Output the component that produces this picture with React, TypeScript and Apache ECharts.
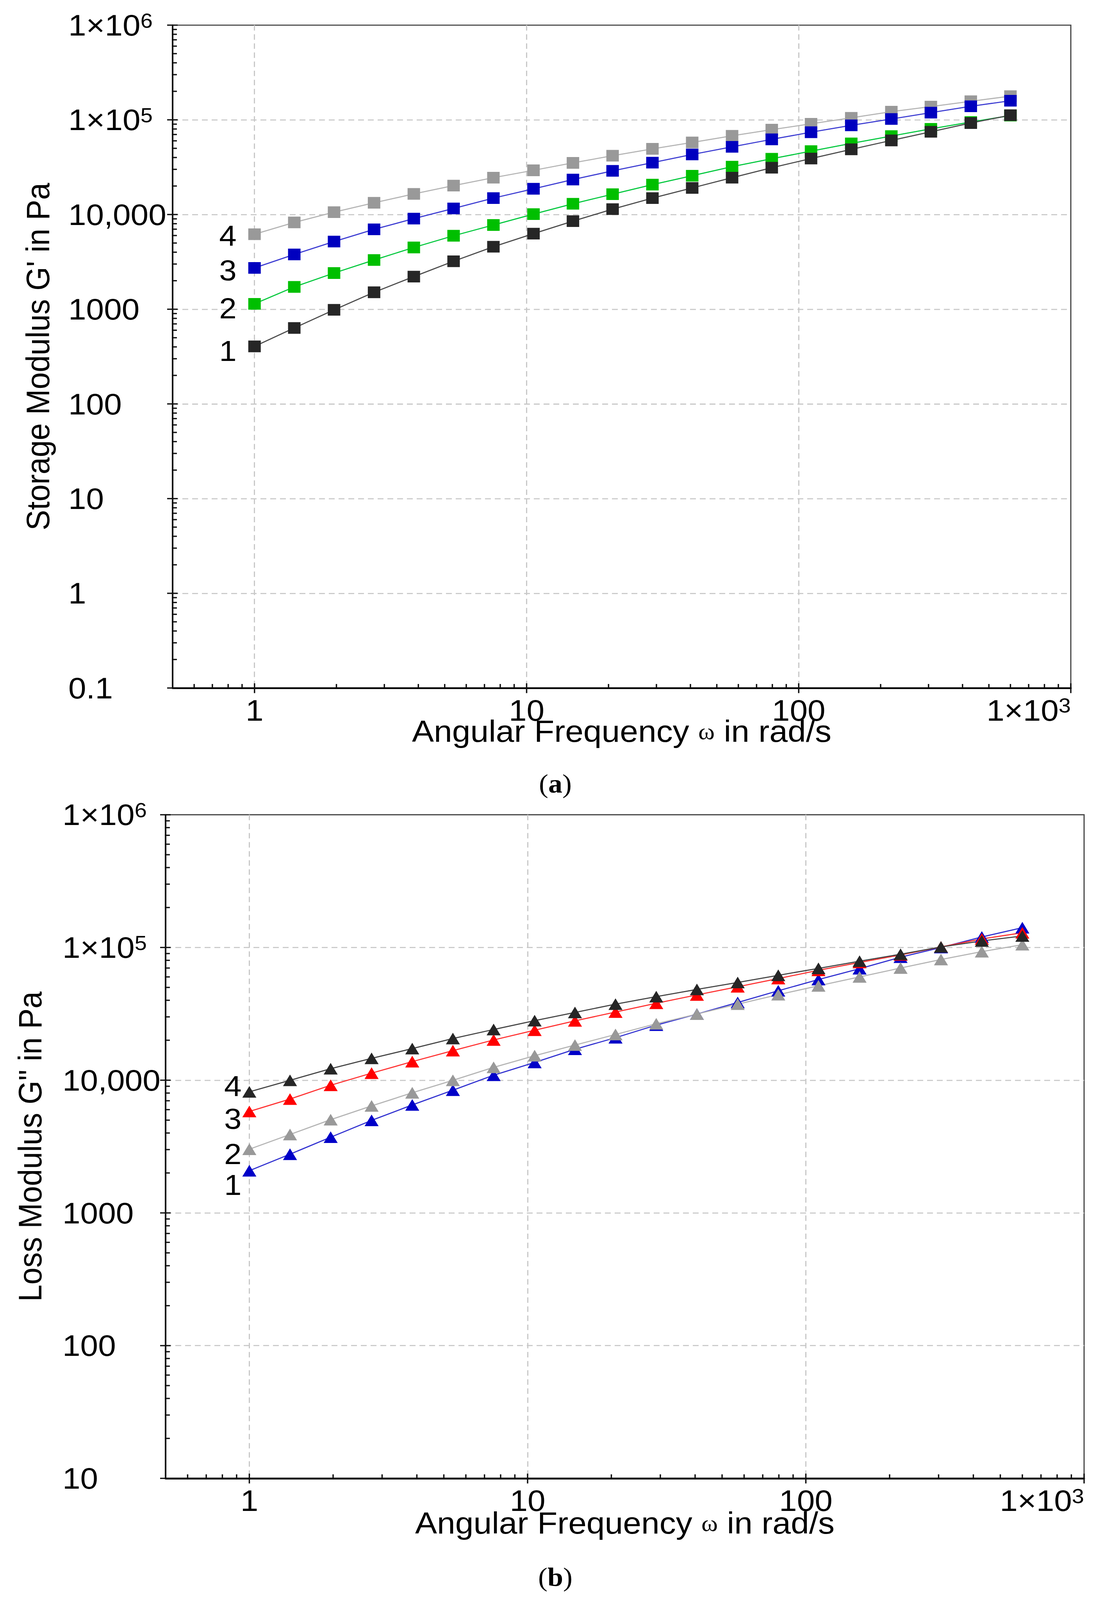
import React, { useEffect, useRef } from "react";
import * as echarts from "echarts";

// angular frequency, rad/s (same sweep for both panels)
const freq = [1, 1.4, 1.96, 2.75, 3.85, 5.39, 7.55, 10.6, 14.8, 20.7, 29, 40.6, 56.9, 79.6, 111, 156, 219, 306, 429, 600];

// (a) storage modulus G', Pa
const storage1 = [405, 634, 985, 1510, 2210, 3210, 4570, 6280, 8510, 11400, 14900, 19100, 24500, 31200, 39000, 48800, 60600, 74800, 92500, 112000];
const storage2 = [1140, 1720, 2410, 3310, 4490, 5970, 7750, 10100, 13000, 16400, 20700, 25700, 32000, 38800, 46700, 56300, 67400, 80200, 94800, 111000];
const storage3 = [2730, 3790, 5180, 6970, 9050, 11600, 14900, 18700, 23400, 28900, 35300, 43100, 51900, 62200, 74000, 87500, 102000, 119000, 139000, 159000];
const storage4 = [6190, 8250, 10600, 13300, 16500, 20200, 24500, 29300, 35100, 41800, 49400, 57700, 67800, 78700, 90800, 105000, 122000, 138000, 157000, 178000];

// (b) loss modulus G", Pa
const loss1 = [2080, 2770, 3720, 4980, 6510, 8410, 10900, 13600, 17100, 20900, 26000, 31500, 38500, 47200, 57300, 69200, 84500, 100000, 120000, 141000];
const loss2 = [3020, 3900, 5040, 6400, 8040, 9980, 12500, 15300, 18400, 22100, 26600, 31500, 37400, 44100, 51400, 60000, 70000, 81100, 93000, 105000];
const loss3 = [5810, 7210, 9160, 11300, 13800, 16700, 20100, 23800, 28000, 32600, 38000, 43900, 50600, 58300, 67300, 77100, 87900, 101000, 116000, 129000];
const loss4 = [8170, 9980, 12200, 14600, 17300, 20600, 24100, 28100, 32400, 37400, 42600, 48300, 54500, 61700, 69600, 78800, 88900, 101000, 112000, 122000];

// tick labels by decade ("base|exponent")
const freqTickLabels = ["1", "10", "100", "1×10|3"]; // 10^0 .. 10^3
const storageTickLabels = ["0.1", "1", "10", "100", "1000", "10,000", "1×10|5", "1×10|6"]; // 10^-1 .. 10^6
const lossTickLabels = ["10", "100", "1000", "10,000", "1×10|5", "1×10|6"]; // 10^1 .. 10^6

const W = 2827;
const H = 4393;
const SANS = "Liberation Sans";
const SERIF = "Liberation Serif";

const labelRich = {
  m: { fontFamily: SANS, fontSize: 82, lineHeight: 82, color: "#000" },
  s: { fontFamily: SANS, fontSize: 56, lineHeight: 56, color: "#000", verticalAlign: "top" },
};

const toRich = (s: string) => {
  const [b, e] = s.split("|");
  return e ? `{m|${b}}{s|${e}}` : `{m|${b}}`;
};

const decadeFormatter = (labels: string[], firstExp: number) => (v: number) => {
  const l = Math.log10(v);
  const e = Math.round(l);
  if (Math.abs(l - e) > 0.01) return "";
  const s = labels[e - firstExp];
  return s ? toRich(s) : "";
};

const minors = (lo: number, hi: number, from: number) => {
  const out: number[] = [];
  for (let d = lo; d < hi; d++) for (let k = 2; k <= 9; k++) if (k * 10 ** d > from) out.push(k * 10 ** d);
  return out;
};

const gridLine = { color: "#c8c8c8", width: 3, type: [15, 10] as number[] };

const makeX = (gridIndex: number, nameGap: number) => ({
  type: "log",
  logBase: 10,
  gridIndex,
  min: 0.5,
  max: 1000,
  axisLine: { show: true, onZero: false, lineStyle: { color: "#000", width: 5 } },
  axisTick: { show: false },
  axisLabel: {
    margin: 20,
    showMinLabel: false,
    alignMaxLabel: "right",
    formatter: decadeFormatter(freqTickLabels, 0),
    rich: labelRich,
  },
  splitLine: { show: true, showMinLine: false, showMaxLine: false, lineStyle: gridLine },
  name: "Angular Frequency {w|ω} in rad/s",
  nameLocation: "middle",
  nameGap,
  nameMoveOverlap: false,
  nameTextStyle: {
    fontFamily: SANS,
    fontSize: 84,
    lineHeight: 84,
    color: "#000",
    rich: { w: { fontFamily: SERIF, fontSize: 64, lineHeight: 84, color: "#000" } },
  },
});

const makeY = (gridIndex: number, min: number, labels: string[], firstExp: number, margin: number, name: string, nameGap: number) => ({
  type: "log",
  logBase: 10,
  gridIndex,
  min,
  max: 1e6,
  axisLine: { show: true, onZero: false, lineStyle: { color: "#000", width: 4 } },
  axisTick: { show: false },
  axisLabel: { align: "left", margin, formatter: decadeFormatter(labels, firstExp), rich: labelRich },
  splitLine: { show: true, showMinLine: false, showMaxLine: false, lineStyle: gridLine },
  name,
  nameLocation: "middle",
  nameRotate: 90,
  nameGap,
  nameMoveOverlap: false,
  nameTextStyle: { fontFamily: SANS, fontSize: 84, lineHeight: 84, color: "#000" },
});

// major ticks cross the axis, minor ticks point inward
const tickSeries = (gi: number, xMin: number, yMin: number, xMaj: number[], xMin2: number[], yMaj: number[], yMin2: number[]) => ({
  type: "custom",
  xAxisIndex: gi,
  yAxisIndex: gi,
  silent: true,
  clip: false,
  z: 10,
  encode: { x: 0, y: 1 },
  data: [
    ...xMaj.map((v) => [v, yMin, 0, 1]),
    ...xMin2.map((v) => [v, yMin, 0, 0]),
    ...yMaj.map((v) => [xMin, v, 1, 1]),
    ...yMin2.map((v) => [xMin, v, 1, 0]),
  ],
  renderItem: (_p: any, api: any) => {
    const p = api.coord([api.value(0), api.value(1)]);
    const onX = api.value(2) === 0;
    const major = api.value(3) === 1;
    let shape;
    if (onX) shape = major ? { x1: p[0], y1: p[1] - 13, x2: p[0], y2: p[1] + 14 } : { x1: p[0], y1: p[1], x2: p[0], y2: p[1] - 11 };
    else shape = major ? { x1: p[0] - 14, y1: p[1], x2: p[0] + 13, y2: p[1] } : { x1: p[0], y1: p[1], x2: p[0] + 11, y2: p[1] };
    return { type: "line", shape, style: { stroke: "#111", lineWidth: 3.5 } };
  },
});

const curve = (
  gi: number,
  tag: string,
  ys: number[],
  marker: string,
  line: string,
  symbol: string,
  symbolSize: number | number[],
  labelDist: number,
  labelDy: number
) => ({
  type: "line",
  name: tag,
  xAxisIndex: gi,
  yAxisIndex: gi,
  symbol,
  symbolSize,
  showAllSymbol: true,
  itemStyle: { color: marker },
  lineStyle: { color: line, width: 3 },
  data: ys.map((y, i) =>
    i === 0
      ? {
          value: [freq[i], y],
          label: {
            show: true,
            position: "left",
            distance: labelDist,
            offset: [0, labelDy],
            formatter: tag,
            fontFamily: SANS,
            fontSize: 80,
            color: "#000",
          },
        }
      : [freq[i], y]
  ),
});

const caption = (ch: string, y: number) => ({
  type: "text",
  x: 1422,
  y,
  style: {
    text: `{p|(}{b|${ch}}{p|)}`,
    align: "center",
    verticalAlign: "middle",
    textAlign: "center",
    textVerticalAlign: "middle",
    rich: {
      p: { fontFamily: SERIF, fontSize: 72, color: "#000" },
      b: { fontFamily: SERIF, fontSize: 72, fontWeight: "bold", color: "#000" },
    },
  },
});

const App: React.FC = () => {
  const chartRef = useRef<HTMLDivElement>(null);

  useEffect(() => {
    const el = chartRef.current;
    if (!el) return;
    // keep the whole figure inside the visible page if it is shorter than the figure
    const vh = window.innerHeight;
    const vw = window.innerWidth;
    const sy = vh > 0 && vh < H ? vh / H : 1;
    const sx = vw > 0 && vw < W ? vw / W : 1;
    if (sx !== 1 || sy !== 1) el.style.transform = `scale(${sx}, ${sy})`;

    const chart = echarts.init(el, undefined, { renderer: "svg" });

    const xMinorTicks = minors(-1, 3, 0.5);
    const option: any = {
      animation: false,
      backgroundColor: "#fff",
      textStyle: { fontFamily: SANS },
      grid: [
        { left: 442, top: 69, width: 2300, height: 1820, show: true, borderColor: "#444", borderWidth: 3, containLabel: false, outerBoundsMode: "none" },
        { left: 424, top: 2237, width: 2352, height: 1822, show: true, borderColor: "#444", borderWidth: 3, containLabel: false, outerBoundsMode: "none" },
      ],
      xAxis: [makeX(0, 76), makeX(1, 80)],
      yAxis: [
        makeY(0, 0.1, storageTickLabels, -1, 267, "Storage Modulus G' in Pa", 303),
        makeY(1, 10, lossTickLabels, 1, 264, 'Loss Modulus G" in Pa', 305),
      ],
      series: [
        curve(0, "4", storage4, "#999999", "#b4b4b4", "rect", 32, 30, 3),
        curve(0, "3", storage3, "#0000bf", "#3c3cd2", "rect", 32, 30, 7),
        curve(0, "2", storage2, "#00bf00", "#00c83c", "rect", 32, 30, 12),
        curve(0, "1", storage1, "#262626", "#4a4a4a", "rect", 32, 30, 12),
        curve(1, "1", loss1, "#0000c8", "#3030d0", "triangle", [36, 32], 2, 39),
        curve(1, "2", loss2, "#999999", "#b4b4b4", "triangle", [36, 32], 2, 13),
        curve(1, "3", loss3, "#ff0000", "#ff3030", "triangle", [36, 32], 2, 20),
        curve(1, "4", loss4, "#262626", "#444444", "triangle", [36, 32], 2, -16),
        tickSeries(0, 0.5, 0.1, [1, 10, 100, 1000], xMinorTicks, [0.1, 1, 10, 100, 1000, 1e4, 1e5, 1e6], minors(-1, 6, 0)),
        tickSeries(1, 0.5, 10, [1, 10, 100, 1000], xMinorTicks, [10, 100, 1000, 1e4, 1e5, 1e6], minors(1, 6, 0)),
      ],
      graphic: [caption("a", 2152), caption("b", 4330)],
    };

    chart.setOption(option);
    return () => {
      chart.dispose();
    };
  }, []);

  return (
    <div
      ref={chartRef}
      style={{ position: "absolute", left: 0, top: 0, width: W, height: H, transformOrigin: "0 0" }}
    />
  );
};

export default App;
